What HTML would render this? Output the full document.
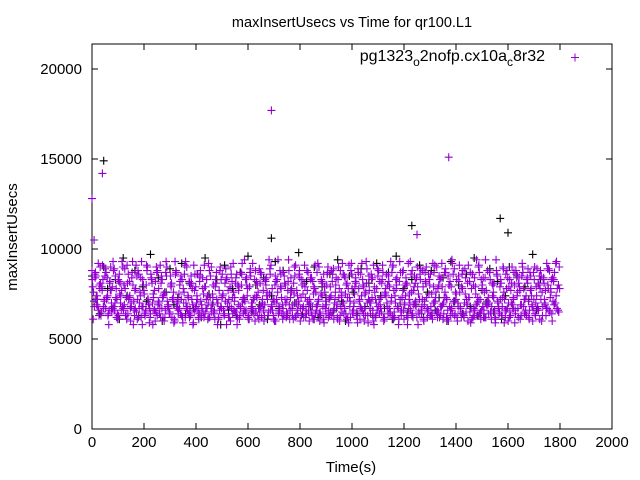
<!DOCTYPE html>
<html><head><meta charset="utf-8"><style>
body{margin:0;background:#fff}
svg{display:block;font-family:"Liberation Sans",sans-serif}
</style></head><body>
<svg id="chart" width="640" height="480">
<rect width="640" height="480" fill="#fff"/>
<text x="352" y="27" font-size="14.5" text-anchor="middle">maxInsertUsecs vs Time for qr100.L1</text>
<text x="17" y="237" font-size="15" text-anchor="middle" transform="rotate(-90 17 237)">maxInsertUsecs</text>
<text x="351" y="472" font-size="15" text-anchor="middle">Time(s)</text>
<g id="axes"></g>
<g id="black"></g>
<g id="purple"></g>
<g>
<text x="545" y="61" font-size="16" text-anchor="end">pg1323<tspan dy="5" font-size="12">o</tspan><tspan dy="-5">2nofp.cx10a</tspan><tspan dy="5" font-size="12">c</tspan><tspan dy="-5">8r32</tspan></text>
<path d="M571 57.5h8M575 53.5v8" stroke="#9400d3" stroke-width="1"/>
</g>
</svg>
<script>
const xTicks=[0,200,400,600,800,1000,1200,1400,1600,1800,2000];
const yTicks=[0,5000,10000,15000,20000];
// purple series: values in hundreds of usecs, sampled every 6 s
const purpleVals=[88,76,84,69,92,78,65,83,71,87,74,66,90,79,68,85,72,63,81,77,
67,89,73,64,82,70,93,66,78,61,86,74,68,80,63,91,72,67,84,58,
77,65,88,70,62,83,75,66,90,69,64,81,73,60,87,71,67,85,62,76,
93,68,64,80,72,59,86,70,66,82,63,78,91,67,74,62,85,69,65,79,
72,61,88,67,75,64,83,70,62,90,73,66,81,58,77,68,86,64,71,84,
62,79,67,92,73,65,80,61,87,70,66,83,74,63,89,68,72,60,82,76,
65,86,69,63,80,72,94,66,78,61,85,70,64,88,73,67,81,62,77,69,
84,63,75,91,66,71,60,83,68,79,64,87,72,65,82,61,76,69,90,63,
74,86,67,80,62,73,88,65,70,84,61,78,68,92,64,75,81,59,71,86,
66,79,63,89,72,67,83,60,76,70,85,64,73,91,62,78,68,82,65,87,
61,74,80,67,93,63,77,70,84,58,72,66,88,69,81,62,75,86,64,79,
71,90,65,83,68,61,87,73,66,80,63,92,70,76,62,85,68,79,64,89,
72,60,82,67,86,63,75,70,91,65,78,62,84,69,73,87,61,80,66,94,
71,64,83,68,76,62,88,70,65,81,73,59,86,67,79,63,90,72,66,84,
62,77,69,87,64,74,81,61,85,68,72,63,89,66,78,60,83,70,67,80];
const purpleStep=6;
const purpleExtraT=[0,8,40,690,1372,1250];
const purpleExtraV=[12800,10500,14200,17700,15100,10800];
// black series: values in hundreds, sampled every 15 s
const blackVals=[85,72,64,90,78,67,83,61,95,74,68,88,63,79,71,97,66,84,60,76,
89,69,73,92,64,81,67,86,62,95,75,70,83,58,91,66,78,63,87,72,
96,65,80,69,84,61,74,93,67,88,63,77,70,98,64,82,68,90,62,79,
73,86,66,94,71,60,85,76,64,89,68,81,63,92,74,67,87,61,96,70,
78,65,83,69,91,62,76,88,66,73,84,60,93,71,80,64,86,68,95,63,
77,70,89,65,82,61,74,90,67,85,63,79,72,97,66,83];
const blackStep=15;
const blackExtraT=[45,690,1230,1570,1600];
const blackExtraV=[14900,10600,11300,11700,10900];

const L=92,R=612,B=429,T=44;
const xs=t=>L+t/2000*(R-L);
const ys=v=>B-v/5000*90;
const NS="http://www.w3.org/2000/svg";
const ax=document.getElementById('axes');
function el(p,tag,a){const e=document.createElementNS(NS,tag);for(const k in a)e.setAttribute(k,a[k]);p.appendChild(e);return e;}
const box=el(ax,'rect',{x:L,y:T,width:R-L,height:B-T,fill:'none',stroke:'#000','stroke-width':1});


xTicks.forEach(t=>{
 const x=xs(t);
 const tk=el(ax,'path',{d:`M${x} ${B}v-6M${x} ${T}v6`,stroke:'#000'});
 
 
 const lb=el(ax,'text',{x:x,y:B+18,'font-size':15,'text-anchor':'middle'});
 lb.textContent=t;
 
 
});
yTicks.forEach(v=>{
 const y=ys(v);
 const tk=el(ax,'path',{d:`M${L} ${y}h6M${R} ${y}h-6`,stroke:'#000'});
 
 
 const lb=el(ax,'text',{x:L-10,y:y+5,'font-size':15,'text-anchor':'end'});
 lb.textContent=v;
 
 
});
function plot(gid,color,ts,vs){
 const g=document.getElementById(gid);let d='';
 for(let i=0;i<ts.length;i++){const x=xs(ts[i]),y=ys(vs[i]);d+=`M${x-4} ${y}h8M${x} ${y-4}v8`;}
 const p=el(g,'path',{d:d,stroke:color,'stroke-width':1.1,fill:'none'});
 
 
}
// draw each series with several phase-shifted passes to approximate density
function expand(vals,step,exT,exV,shifts){
 const t=[],v=[];
 shifts.forEach((s,k)=>{
  vals.forEach((a,i)=>{const b=vals[(i+s)%vals.length];t.push(i*step+k*step/shifts.length);v.push(b*100);});
 });
 return [t.concat(exT),v.concat(exV)];
}
const bk=expand(blackVals,blackStep,blackExtraT,blackExtraV,[0]);
plot('black','#000',bk[0],bk[1]);
const pp=expand(purpleVals,purpleStep,purpleExtraT,purpleExtraV,[0,7,13,29]);
plot('purple','#9400d3',pp[0],pp[1]);
</script>
</body></html>
